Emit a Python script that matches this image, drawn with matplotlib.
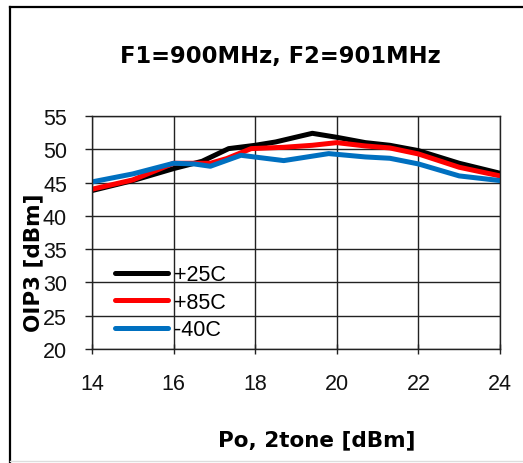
import matplotlib
matplotlib.use('Agg')
import matplotlib.pyplot as plt
from matplotlib.lines import Line2D

W, H = 523, 464

# Po, 2tone [dBm] vs OIP3 [dBm]
po_25 = [14, 15, 16, 16.7, 17.35, 18, 18.5, 19.4, 20, 20.7, 21.3, 22, 23, 24]
oip3_25 = [43.8, 45.3, 47.1, 48.2, 50.1, 50.6, 51.1, 52.4, 51.8, 51.0, 50.6, 49.8, 47.9, 46.4]

po_85 = [14, 15, 16, 16.9, 17.3, 17.9, 18.7, 19.4, 20, 20.7, 21.3, 22, 23, 24]
oip3_85 = [44.0, 45.4, 47.9, 47.9, 48.6, 50.1, 50.3, 50.6, 51.0, 50.5, 50.2, 49.3, 47.3, 46.0]

po_m40 = [14, 15, 16, 16.5, 16.9, 17.65, 18.7, 19.8, 20.7, 21.3, 22, 23, 24]
oip3_m40 = [45.1, 46.3, 47.9, 47.8, 47.45, 49.1, 48.3, 49.35, 48.85, 48.65, 47.8, 46.0, 45.3]

series = [
    ('+25C', po_25, oip3_25, '#000000'),
    ('+85C', po_85, oip3_85, '#ff0000'),
    ('-40C', po_m40, oip3_m40, '#0070c0'),
]

title = 'F1=900MHz, F2=901MHz'
xlabel = 'Po, 2tone [dBm]'
ylabel = 'OIP3 [dBm]'
xticks = [14, 16, 18, 20, 22, 24]
yticks = [20, 25, 30, 35, 40, 45, 50, 55]

plt.rcParams['font.family'] = 'Liberation Sans'

fig = plt.figure(figsize=(W / 100, H / 100), dpi=100)
ax = fig.add_axes([92 / W, 1 - 350 / H, (500 - 92) / W, (350 - 117) / H])

for label, x, y, c in series:
    ax.plot(x, y, color=c, lw=3.6, label=label, solid_capstyle='round',
            solid_joinstyle='round')

ax.set_xlim(14, 24)
ax.set_ylim(20, 55)
ax.set_xticks(xticks)
ax.set_yticks(yticks)
ax.grid(True, color='#222222', lw=1.0)
ax.set_axisbelow(True)
for sp in ax.spines.values():
    sp.set_color('#222222')
    sp.set_linewidth(1.0)
ax.tick_params(axis='y', direction='out', length=5, width=1, pad=13,
               labelsize=15.5, colors='#222222', labelcolor='#111111')
ax.tick_params(axis='x', direction='inout', length=7, width=1, pad=14,
               labelsize=15.5, colors='#222222', labelcolor='#111111')

leg = ax.legend(loc='center left', bbox_to_anchor=(115 / W, 1 - 303.3 / H),
                bbox_transform=fig.transFigure, frameon=False, fontsize=15.5,
                handlelength=2.45, handletextpad=0.3, labelspacing=0.3,
                borderpad=0, borderaxespad=0)

bold = dict(family='DejaVu Sans', fontweight='bold', color='#000000')
fig.text(280 / W, 1 - 57 / H, title, ha='center', va='center', fontsize=16.3, **bold)
fig.text(316.7 / W, 1 - 440 / H, xlabel, ha='center', va='center', fontsize=15.5, **bold)
fig.text(33 / W, 1 - 263 / H, ylabel, ha='center', va='center', rotation=90,
         fontsize=15.5, **bold)

# outer frame (left and top drawn black, bottom a faint grey edge)
fig.add_artist(Line2D([9.5 / W, 9.5 / W], [0, 1 - 8 / H], color='black', lw=1.6,
                      transform=fig.transFigure))
fig.add_artist(Line2D([9.5 / W, 1], [1 - 8 / H, 1 - 8 / H], color='black', lw=1.6,
                      transform=fig.transFigure))
fig.add_artist(Line2D([9.5 / W, 1], [1 - 462 / H, 1 - 462 / H], color='#dddddd', lw=1,
                      transform=fig.transFigure))

fig.savefig('out.png', dpi=100)
